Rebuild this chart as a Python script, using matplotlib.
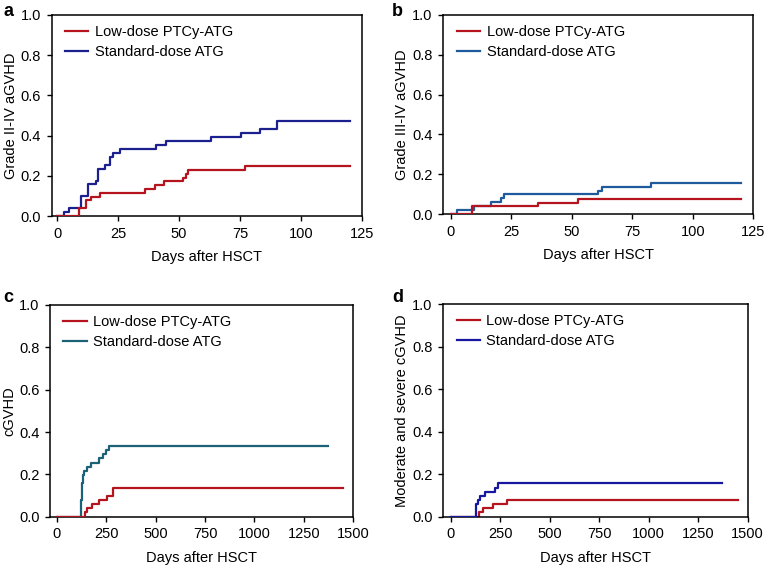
import matplotlib
matplotlib.use("Agg")
import matplotlib.pyplot as plt

plt.rcParams['font.family'] = ['Liberation Sans', 'DejaVu Sans']

# ---------------- data ----------------
series_labels = ["Low-dose PTCy-ATG", "Standard-dose ATG"]
x_label = "Days after HSCT"
panel_letters = ["a", "b", "c", "d"]
y_labels = ["Grade II-IV aGVHD", "Grade III-IV aGVHD", "cGVHD", "Moderate and severe cGVHD"]

a_low_days = [0, 9, 11.7, 13.7, 17.5, 36, 40, 43.7, 51.6, 52.7, 53.7, 77, 120]
a_low_vals = [0, 0.039, 0.078, 0.094, 0.116, 0.132, 0.152, 0.172, 0.19, 0.21, 0.227, 0.247, 0.247]
a_std_days = [0, 2.7, 4.8, 9.7, 12.7, 15.7, 16.8, 19.5, 21.6, 22.7, 25.7, 40.7, 44.8, 63, 75.3, 83.2, 90.3, 120]
a_std_vals = [0, 0.02, 0.04, 0.098, 0.157, 0.176, 0.235, 0.255, 0.294, 0.314, 0.333, 0.353, 0.373, 0.392, 0.412, 0.431, 0.471, 0.471]

b_low_days = [0, 8.9, 36, 52.7, 120]
b_low_vals = [0, 0.038, 0.057, 0.075, 0.075]
b_std_days = [0, 2.8, 9.7, 16.7, 20.7, 21.9, 60.7, 62.5, 82.8, 120]
b_std_vals = [0, 0.02, 0.039, 0.059, 0.078, 0.098, 0.118, 0.137, 0.157, 0.157]

c_low_days = [0, 143, 155, 177, 216, 253, 283, 1450]
c_low_vals = [0, 0.02, 0.039, 0.059, 0.078, 0.098, 0.137, 0.137]
c_std_days = [0, 121, 124, 127, 130, 133, 140, 152, 174, 216, 236, 250, 264, 1370]
c_std_vals = [0, 0.04, 0.08, 0.12, 0.16, 0.196, 0.216, 0.235, 0.255, 0.275, 0.294, 0.314, 0.333, 0.333]

d_low_days = [0, 142, 162, 213, 285, 1450]
d_low_vals = [0, 0.02, 0.039, 0.059, 0.078, 0.078]
d_std_days = [0, 126, 130, 136, 148, 173, 224, 241, 1370]
d_std_vals = [0, 0.039, 0.059, 0.078, 0.098, 0.118, 0.137, 0.157, 0.157]

short_ticks = [0, 25, 50, 75, 100, 125]
long_ticks = [0, 250, 500, 750, 1000, 1250, 1500]
y_ticks = [0.0, 0.2, 0.4, 0.6, 0.8, 1.0]

# ---------------- styling ----------------
red = "#b5141e"
blues = ["#1c1f8e", "#1f5a9c", "#1b6276", "#1616a0"]

W, H = 765, 567
fig = plt.figure(figsize=(W / 100, H / 100), dpi=100)

def rect(l, r, t, b):
    return [l / W, 1 - b / H, (r - l) / W, (b - t) / H]

rects = [rect(51.7, 361.7, 15, 216), rect(443.3, 753.3, 15, 214),
         rect(50, 353.3, 305, 516.7), rect(443.3, 747.7, 304, 516.7)]
xlims = [(-2.3, 125), (-3, 125), (-34, 1500), (-37, 1500)]
xticks = [short_ticks, short_ticks, long_ticks, long_ticks]
data = [(a_low_days, a_low_vals, a_std_days, a_std_vals),
        (b_low_days, b_low_vals, b_std_days, b_std_vals),
        (c_low_days, c_low_vals, c_std_days, c_std_vals),
        (d_low_days, d_low_vals, d_std_days, d_std_vals)]
red_on_top = [True, True, True, False]
letter_pos = [(3, 11), (392, 11), (3, 298), (392, 297)]

fs = 10.5
for i in range(4):
    ax = fig.add_axes(rects[i])
    ld, lv, sd, sv = data[i]
    zr = 3 if red_on_top[i] else 2
    ax.step(ld, lv, where="post", color=red, lw=1.6, label=series_labels[0], zorder=zr)
    ax.step(sd, sv, where="post", color=blues[i], lw=1.6, label=series_labels[1], zorder=5 - zr)
    ax.set_xlim(*xlims[i])
    ax.set_ylim(0, 1.0)
    ax.set_xticks(xticks[i])
    ax.set_xticklabels([str(t) for t in xticks[i]])
    ax.set_yticks(y_ticks)
    ax.set_yticklabels(["%.1f" % t for t in y_ticks])
    ax.tick_params(direction="out", length=3.6, width=1, labelsize=fs, pad=4, colors="black")
    for s in ax.spines.values():
        s.set_linewidth(1.1)
    ax.set_xlabel(x_label, fontsize=fs, labelpad=7)
    ax.set_ylabel(y_labels[i], fontsize=fs, labelpad=2)
    ax.legend(loc="upper left", frameon=False, fontsize=fs, handlelength=1.6,
              handletextpad=0.45, borderaxespad=0.3, labelspacing=0.4,
              bbox_to_anchor=(0.01, 1.0))
    fig.text(letter_pos[i][0] / W, 1 - letter_pos[i][1] / H, panel_letters[i],
             fontsize=13, fontweight="bold", ha="left", va="center")

fig.savefig("out.png", dpi=100)
